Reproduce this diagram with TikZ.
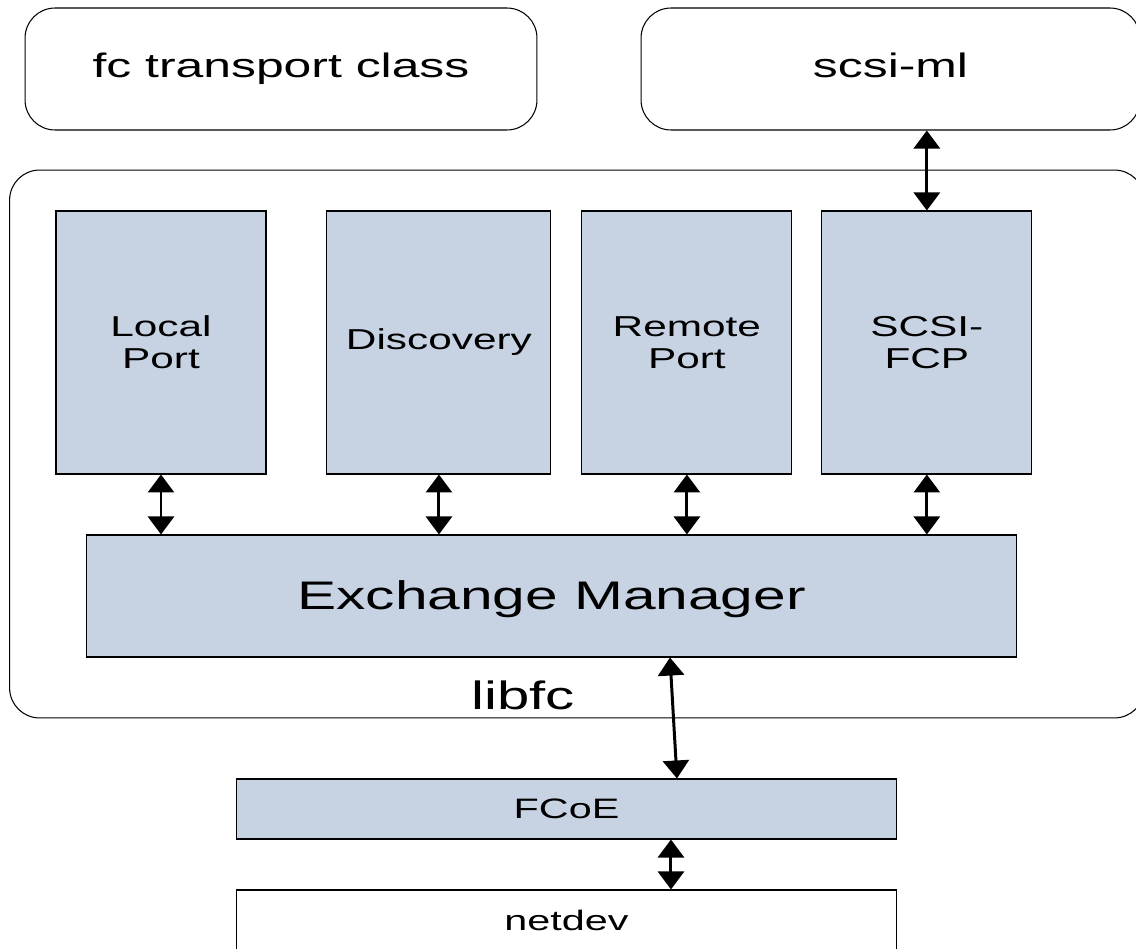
\documentclass[tikz,border=0pt]{standalone}
\usepackage{fontspec}
\setmainfont{Liberation Sans}[FakeStretch=1.47]
\usetikzlibrary{arrows.meta}
\definecolor{blockblue}{RGB}{199,210,227}
\tikzstyle{line} = [draw, line width=1.7pt, {Triangle[width=0.52cm,length=0.36cm]}-{Triangle[width=0.52cm,length=0.36cm]}]
\tikzstyle{layer} = [rectangle, draw, rounded corners=0.6cm, line width=0.6pt, inner sep=0pt, text height=0.96em, text depth=0em, minimum height=2.44cm, font=\fontsize{19.3}{23}\selectfont]
\tikzstyle{block} = [rectangle, draw, fill=blockblue, line width=0.6pt, inner sep=0pt, align=center, minimum width=4.2cm, minimum height=5.26cm, font=\fontsize{16.4}{18.1}\selectfont]
\tikzstyle{bar} = [rectangle, draw, line width=0.6pt, inner sep=0pt, minimum width=13.22cm, minimum height=1.2cm, font=\fontsize{16}{19}\selectfont]
\begin{document}
\begin{tikzpicture}[x=0.02cm, y=-0.02cm]
		\clip (0,0) rectangle (1136,949);
		
		\node [layer, minimum width=10.24cm] (fc) at (281,69) {fc transport class};
		\node [layer, minimum width=9.98cm] (scsiml) at (890.5,69) {scsi-ml};
		
		\node [layer, minimum width=22.7cm, minimum height=10.96cm] (libfc) at (577,444) {};
		\node [font=\fontsize{22.5}{27}\selectfont] (libfctext) at (523,695) {libfc};
		
		\node [block] (local) at (161,342.5) {Local\\Port};
		\node [block, right of=local, node distance=5.56cm, minimum width=4.48cm] (discovery) {Discovery};
		\node [block, right of=discovery, node distance=4.96cm] (remote) {Remote\\Port};
		\node [block, right of=remote, node distance=4.8cm] (scsifcp) {SCSI-\\FCP};
		
		\node [block, minimum width=18.62cm, minimum height=2.44cm, text depth=0.1em, font=\fontsize{22.7}{27}\selectfont] (em) at (551.5,596) {Exchange Manager};
		
		\node [bar, fill=blockblue] (fcoe) at (566.5,809) {FCoE};
		\node [bar, below of=fcoe, node distance=2.22cm] (netdev) {netdev};
		
		\path [line] (scsiml.south -| scsifcp.north) to (scsifcp.north);
		\foreach \b in {local, discovery, remote, scsifcp}
			\path [line] (\b.south) to (\b.south |- em.north);
		\path [line] ([xshift=2.37cm]em.south) to ([xshift=2.21cm]fcoe.north);
		\path [line] ([xshift=2.09cm]fcoe.south) to ([xshift=2.09cm]netdev.north);
		\end{tikzpicture}
\end{document}
